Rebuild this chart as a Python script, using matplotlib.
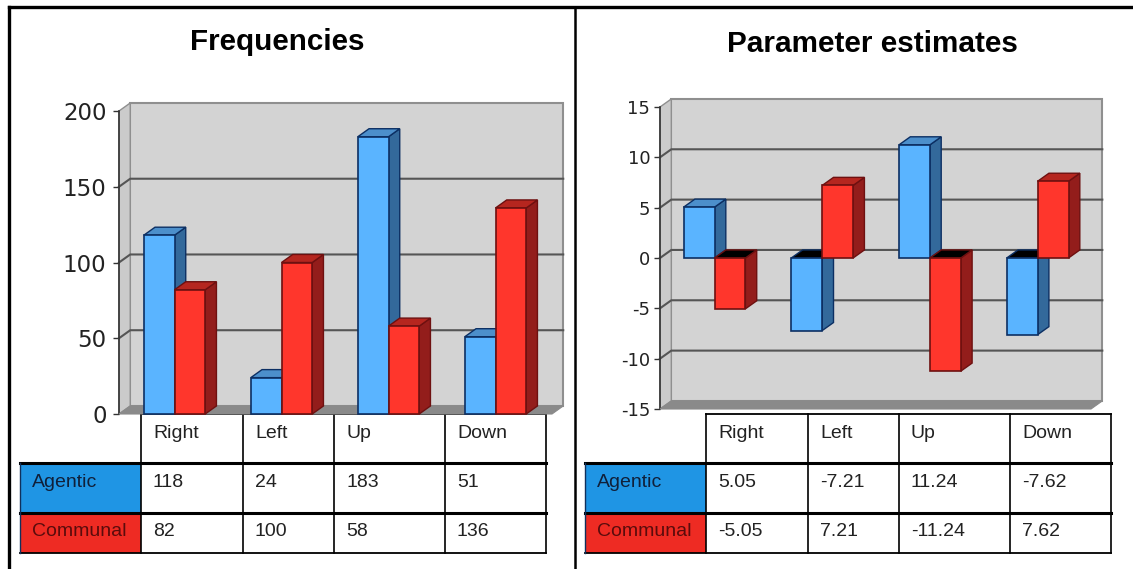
#! usr/bin/env python3
import matplotlib
matplotlib.use("Agg")
import matplotlib.pyplot as plt
from matplotlib.patches import Polygon, Rectangle

plt.rcParams["axes.unicode_minus"] = False

W, H = 1133, 569

categories = ["Right", "Left", "Up", "Down"]
series_names = ["Agentic", "Communal"]
freq_agentic = [118, 24, 183, 51]
freq_communal = [82, 100, 58, 136]
est_agentic = [5.05, -7.21, 11.24, -7.62]
est_communal = [-5.05, 7.21, -11.24, 7.62]
freq_ticks = [0, 50, 100, 150, 200]
est_ticks = [-15, -10, -5, 0, 5, 10, 15]

BLUE = ("#5ab4ff", "#33699b", "#4c8fcb", "#0c2f63")
RED = ("#ff362c", "#931d1b", "#b5261f", "#6e1010")
WALL = "#d3d3d3"
SIDE = "#cbcbcb"
FLOOR = "#8a8a8a"
GRID = "#555555"
EDGE = "#8f8f8f"
TABLE_FONT = 14


def pixel_axes(fig, left, right, top, bottom):
    return fig.add_axes([left / W, 1 - bottom / H, (right - left) / W, (bottom - top) / H])


def bar3d(ax, x, width, value, dx, dy, colors):
    front, side, cap, edge = colors
    right = x + width
    lw = 1.0
    ax.add_patch(Polygon([(right, 0), (right + dx, dy), (right + dx, value + dy), (right, value)],
                         fc=side, ec=edge, lw=lw, zorder=5, clip_on=False))
    # the top face goes black when a bar hangs below zero
    cap_y = max(value, 0)
    cap_color = cap if value > 0 else "black"
    ax.add_patch(Polygon([(x, cap_y), (x + dx, cap_y + dy), (right + dx, cap_y + dy), (right, cap_y)],
                         fc=cap_color, ec=edge, lw=lw, zorder=5, clip_on=False))
    ax.add_patch(Rectangle((x, 0), width, value, fc=front, ec=edge, lw=1.2, zorder=5, clip_on=False))


def draw_chart(ax, agentic, communal, ticks, dx, dy, width, tick_size, pad):
    xmin, xmax = ax.get_xlim()
    ymin, ymax = ticks[0], ticks[-1]
    ax.set_ylim(ymin, ymax)
    ax.set_yticks(ticks)
    ax.set_xticks([])
    ax.patch.set_visible(False)
    for name in ["top", "right", "bottom"]:
        ax.spines[name].set_visible(False)
    ax.spines["left"].set_color("#333333")
    ax.spines["left"].set_linewidth(1.2)
    ax.tick_params(axis="y", length=4, width=1.0, color="#333333", labelsize=tick_size,
                   labelcolor="#222222", pad=pad)
    ax.add_patch(Polygon([(xmin + dx, ymin + dy), (xmax + dx, ymin + dy), (xmax + dx, ymax + dy), (xmin + dx, ymax + dy)],
                         fc=WALL, ec=EDGE, lw=1.5, zorder=1, clip_on=False))
    ax.add_patch(Polygon([(xmin, ymin), (xmin + dx, ymin + dy), (xmin + dx, ymax + dy), (xmin, ymax)],
                         fc=SIDE, ec=EDGE, lw=1.0, zorder=1, clip_on=False))
    for t in ticks[1:-1]:
        ax.plot([xmin, xmin + dx, xmax + dx], [t, t + dy, t + dy], color=GRID, lw=1.5, zorder=2, clip_on=False)
    ax.add_patch(Polygon([(xmin, ymin), (xmin + dx, ymin + dy), (xmax + dx, ymin + dy), (xmax, ymin)],
                         fc=FLOOR, ec=FLOOR, lw=0.8, zorder=3, clip_on=False))
    for i in range(len(agentic)):
        bar3d(ax, i - width, width, agentic[i], dx, dy, BLUE)
        bar3d(ax, i, width, communal[i], dx, dy, RED)


def draw_table(page, left, col_edges, header, rows):
    y_edges = [414, 463, 513, 553]
    fills = ["#1f95e4", "#ee2b23"]
    lws = [1.3, 2.2, 2.2, 1.3]
    for i in range(2):
        page.add_patch(Rectangle((left, y_edges[i + 1]), col_edges[0] - left, y_edges[i + 2] - y_edges[i + 1],
                                 fc=fills[i], ec="none", zorder=2))
        page.text(left + 12, y_edges[i + 1] + 19, series_names[i], fontsize=TABLE_FONT,
                  color="#10203a" if i == 0 else "#5a0c0c", va="center", family="Liberation Sans", zorder=4)
    for k, y in enumerate(y_edges):
        x0 = col_edges[0] if k == 0 else left
        page.plot([x0, col_edges[-1]], [y, y], color="black", lw=lws[k], zorder=3)
    for x in col_edges:
        page.plot([x, x], [y_edges[0], y_edges[-1]], color="black", lw=1.2, zorder=3)
    page.plot([left, left], [y_edges[1], y_edges[-1]], color="#10305c", lw=1.0, zorder=3)
    for j in range(len(header)):
        for text, y in [(header[j], 433), (rows[0][j], 482), (rows[1][j], 532)]:
            page.text(col_edges[j] + 12, y, text, fontsize=TABLE_FONT, color="#222222", va="center",
                      family="Liberation Sans", zorder=4)


fig = plt.figure(figsize=(W / 100, H / 100), dpi=100, facecolor="white")

# page layer: frame lines, titles and the two data tables
page = fig.add_axes([0, 0, 1, 1])
page.set_xlim(0, W)
page.set_ylim(H, 0)
page.axis("off")
page.plot([9, 9], [H, 7], color="black", lw=2.4)
page.plot([9, W], [7, 7], color="black", lw=2.4)
page.plot([575, 575], [7, H], color="black", lw=1.8)
page.text(277, 42, "Frequencies", fontsize=21.3, fontweight="bold", ha="center", va="center", family="Liberation Sans")
page.text(872, 44, "Parameter estimates", fontsize=21.4, fontweight="bold", ha="center", va="center", family="Liberation Sans")

draw_table(page, 20, [141, 243, 334, 445, 546], categories,
           [[str(v) for v in freq_agentic], [str(v) for v in freq_communal]])
draw_table(page, 585, [706, 808, 899, 1010, 1111], categories,
           [["%.2f" % v for v in est_agentic], ["%.2f" % v for v in est_communal]])

ax1 = pixel_axes(fig, 119, 552, 111, 414)
ax1.set_xlim((119 - 174.5) / 107, (552 - 174.5) / 107)
draw_chart(ax1, freq_agentic, freq_communal, freq_ticks, 0.105, 5.3, 0.287, 16.5, 5)

ax2 = pixel_axes(fig, 660, 1091, 107, 409)
ax2.set_xlim((660 - 714.5) / 107.7, (1091 - 714.5) / 107.7)
draw_chart(ax2, est_agentic, est_communal, est_ticks, 0.105, 0.8, 0.287, 13, 3)

fig.savefig("out.png", dpi=100)
